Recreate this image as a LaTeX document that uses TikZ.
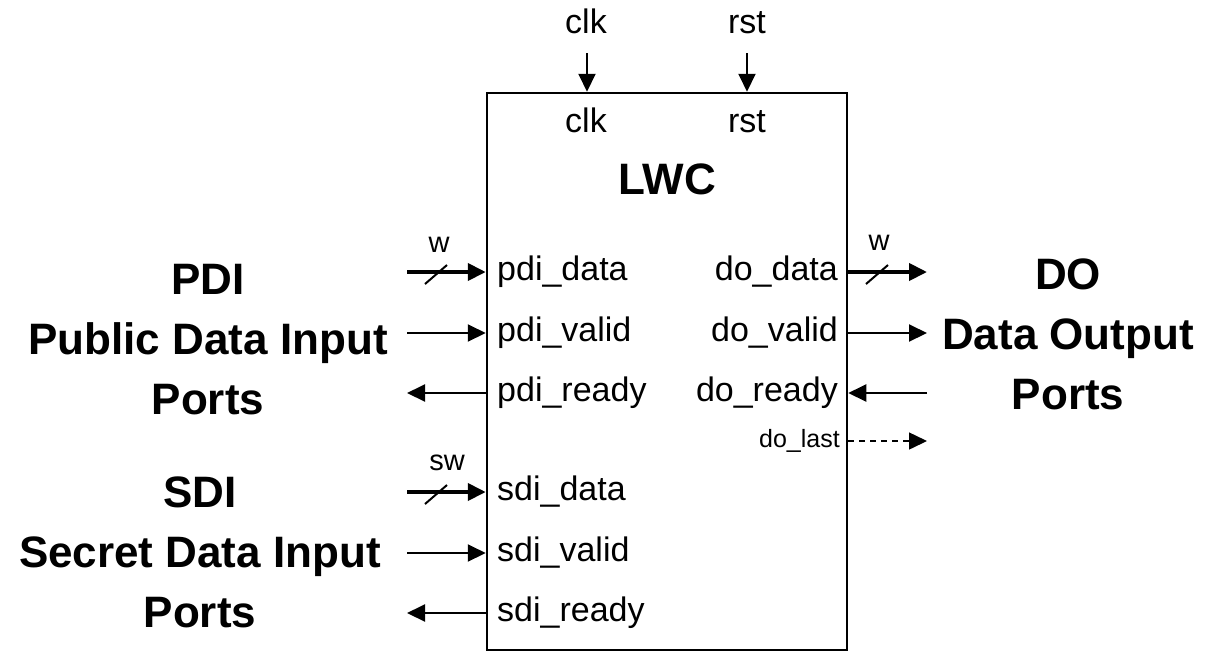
\documentclass[tikz,border=0pt]{standalone}
\usepackage{fontspec}
\setmainfont{Liberation Sans}
\usetikzlibrary{arrows.meta}
\begin{document}
\begin{tikzpicture}[x=1pt,y=-1pt,
    port/.style={font=\fontsize{34}{40}\selectfont,inner sep=0pt},
    grp/.style={font=\fontsize{44}{60}\selectfont\bfseries,align=center},
    tag/.style={font=\fontsize{29}{34}\selectfont,inner sep=0pt},
    sig/.style={line width=2pt,-{Triangle[length=18pt,width=17pt]}},
    bus/.style={sig,line width=4pt},
    slash/.style={line width=2pt}]
  \useasboundingbox (0,0) rectangle (1212,657);

  \node[draw,line width=2.5pt,minimum width=360pt,minimum height=557pt,inner sep=0pt] (lwc) at (667,371.5) {};
  \node[font=\fontsize{44}{50}\selectfont\bfseries,anchor=base] (lwcname) at (667,194) {LWC};

  % clock and reset
  \node[port,anchor=base] (clktop) at (586,33) {clk};
  \node[port,anchor=base] (rsttop) at (747,33) {rst};
  \node[port,anchor=base] (clkport) at (586,132) {clk};
  \node[port,anchor=base] (rstport) at (747,132) {rst};
  \coordinate (clkin) at (587,53);
  \coordinate (rstin) at (747,53);
  \draw[sig] (clkin) -- (clkin |- lwc.north);
  \draw[sig] (rstin) -- (rstin |- lwc.north);

  % public data input
  \node[port,anchor=west] (pdidata) at (497,272) {pdi\_data};
  \node[port,anchor=west] (pdivalid) at (497,333) {pdi\_valid};
  \node[port,anchor=west] (pdiready) at (497,393) {pdi\_ready};
  \coordinate (pdidatain) at (407,272);
  \coordinate (pdivalidin) at (407,333);
  \coordinate (pdireadyout) at (407,393);
  \draw[bus] (pdidatain) -- (lwc.west |- pdidata);
  \draw[sig] (pdivalidin) -- (lwc.west |- pdivalid);
  \draw[sig] (lwc.west |- pdiready) -- (pdireadyout);
  \draw[slash] (436,274) ++(-11,10) -- ++(22,-19);
  \node[tag] (pdiw) at (439,245) {w};

  % secret data input
  \node[port,anchor=west] (sdidata) at (497,492) {sdi\_data};
  \node[port,anchor=west] (sdivalid) at (497,553) {sdi\_valid};
  \node[port,anchor=west] (sdiready) at (497,613) {sdi\_ready};
  \coordinate (sdidatain) at (407,492);
  \coordinate (sdivalidin) at (407,553);
  \coordinate (sdireadyout) at (407,613);
  \draw[bus] (sdidatain) -- (lwc.west |- sdidata);
  \draw[sig] (sdivalidin) -- (lwc.west |- sdivalid);
  \draw[sig] (lwc.west |- sdiready) -- (sdireadyout);
  \draw[slash] (436,494) ++(-11,10) -- ++(22,-19);
  \node[tag] (sdiw) at (447,463) {sw};

  % data output
  \node[port,anchor=east] (dodata) at (838,272) {do\_data};
  \node[port,anchor=east] (dovalid) at (838,333) {do\_valid};
  \node[port,anchor=east] (doready) at (838,393) {do\_ready};
  \node[port,anchor=east,font=\fontsize{25}{30}\selectfont] (dolast) at (840,441) {do\_last};
  \coordinate (dodataout) at (927,272);
  \coordinate (dovalidout) at (927,333);
  \coordinate (doreadyin) at (927,393);
  \coordinate (dolastout) at (927,441);
  \draw[bus] (lwc.east |- dodata) -- (dodataout);
  \draw[sig] (lwc.east |- dovalid) -- (dovalidout);
  \draw[sig] (doreadyin) -- (lwc.east |- doready);
  \draw[sig,line width=1.5pt,dash pattern=on 6pt off 5pt] (lwc.east |- dolast) -- (dolastout);
  \draw[slash] (877,274) ++(-11,10) -- ++(22,-19);
  \node[tag] (dow) at (879,243) {w};

  % port groups
  \node[grp] (pdigrp) at (208,340) {PDI\\Public Data Input\\Ports};
  \node[grp] (sdigrp) at (200,552) {SDI\\Secret Data Input\\Ports};
  \node[grp] (dogrp) at (1068,334) {DO\\Data Output\\Ports};
\end{tikzpicture}
\end{document}
